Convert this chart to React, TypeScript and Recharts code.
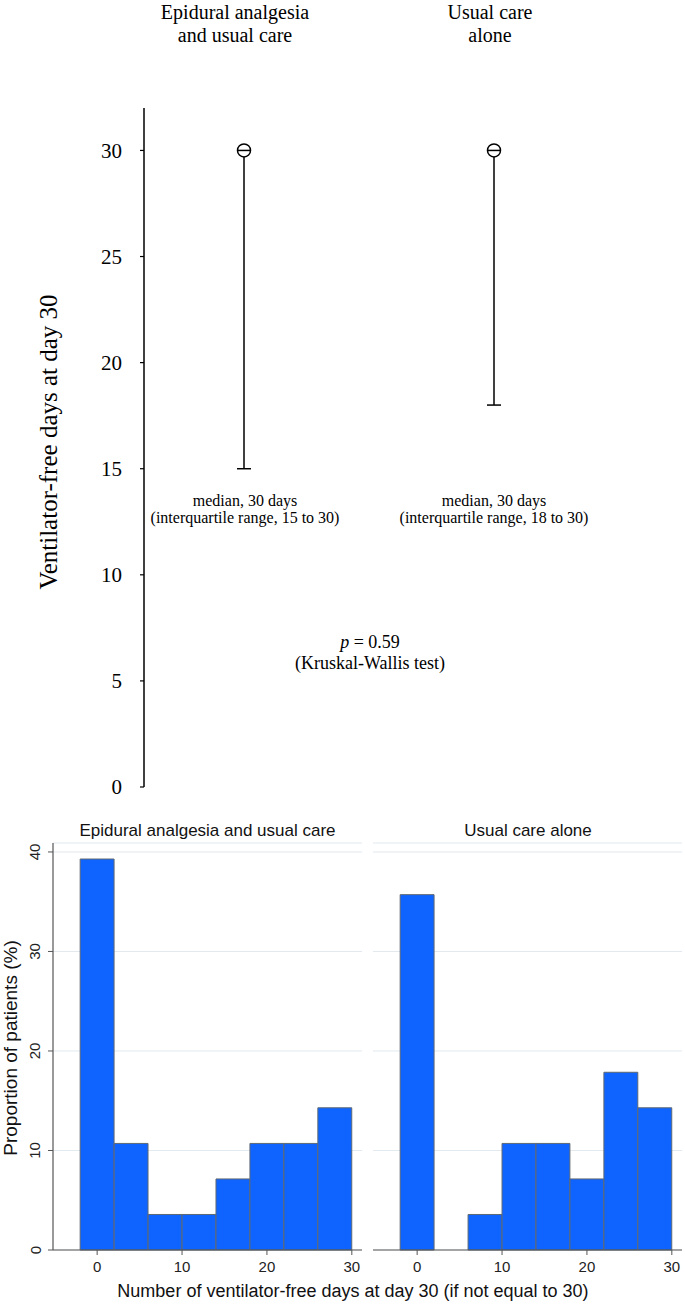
import React from 'react';
import {
  ComposedChart,
  BarChart,
  Bar,
  Line,
  Scatter,
  XAxis,
  YAxis,
  CartesianGrid
} from 'recharts';

// group summary (ventilator-free days at day 30)
const groupNames = ['Epidural analgesia and usual care', 'Usual care alone'];
const groupPos = [1, 2];
const medianDays = [30, 30];
const lowerQuartile = [15, 18];
const upperQuartile = [30, 30];
const daysTicks = [0, 5, 10, 15, 20, 25, 30];

// histogram bins (centre of each 4-day bin) and proportions in %
const binCenters = [0, 4, 8, 12, 16, 20, 24, 28];
const epiduralPct = [39.29, 10.71, 3.57, 3.57, 7.14, 10.71, 10.71, 14.29];
const usualPct = [35.71, 0, 3.57, 10.71, 10.71, 7.14, 17.86, 14.29];
const histXTicks = [0, 10, 20, 30];
const histYTicks = [0, 10, 20, 30, 40];

const SERIF = '"Liberation Serif", "Times New Roman", serif';
const SANS = '"Liberation Sans", Arial, Helvetica, sans-serif';

const HIST_DOMAIN: [number, number] = [-5.2, 31.2];
const HIST_PLOT_W = 309;
const BIN_W = 4;
const barPx = (BIN_W * HIST_PLOT_W) / (HIST_DOMAIN[1] - HIST_DOMAIN[0]) - 0.05;

const epiduralData = binCenters.map((b, i) => ({ bin: b, pct: epiduralPct[i] }));
const usualData = binCenters.map((b, i) => ({ bin: b, pct: usualPct[i] }));

const medianData = groupPos.map((p, i) => ({ pos: p, v: medianDays[i] }));
const capData = groupPos.map((p, i) => ({ pos: p, v: lowerQuartile[i] }));
const whiskerData = groupPos.map((p, i) => [
  { pos: p, v: lowerQuartile[i] },
  { pos: p, v: upperQuartile[i] }
]);

const MedianMark = (props: any) => {
  const { cx, cy } = props;
  return (
    <g>
      <circle cx={cx} cy={cy} r={6.5} fill="#fff" stroke="#000" strokeWidth={1.5} />
      <line x1={cx - 6.5} x2={cx + 6.5} y1={cy} y2={cy} stroke="#000" strokeWidth={1.5} />
    </g>
  );
};

const CapMark = (props: any) => {
  const { cx, cy } = props;
  return <line x1={cx - 7} x2={cx + 7} y1={cy} y2={cy} stroke="#000" strokeWidth={1.5} />;
};

const RotatedTick = (props: any) => {
  const { x, y, payload } = props;
  return (
    <text
      x={x}
      y={y}
      transform={`rotate(-90 ${x} ${y})`}
      textAnchor="middle"
      dominantBaseline="central"
      fontFamily={SANS}
      fontSize={15}
      fill="#222"
    >
      {payload.value}
    </text>
  );
};

const Histogram = ({ data, showY, width, marginLeft }: any) => (
  <BarChart
    width={width}
    height={505}
    data={data}
    margin={{ top: 43, right: 3, bottom: 25, left: marginLeft }}
  >
    <CartesianGrid vertical={false} stroke="#e2e9ef" strokeWidth={1} />
    <XAxis
      dataKey="bin"
      type="number"
      domain={HIST_DOMAIN}
      ticks={histXTicks}
      height={30}
      tickSize={5}
      tickMargin={6}
      axisLine={{ stroke: '#555', strokeWidth: 1.2 }}
      tickLine={{ stroke: '#555' }}
      tick={{ fontFamily: SANS, fontSize: 15, fill: '#222' }}
    />
    <YAxis
      domain={[0, 40.9]}
      ticks={histYTicks}
      hide={!showY}
      width={showY ? 53 : 0}
      tickSize={5}
      tickMargin={13}
      axisLine={{ stroke: '#555', strokeWidth: 1.2 }}
      tickLine={{ stroke: '#555' }}
      tick={<RotatedTick />}
    />
    <Bar
      dataKey="pct"
      fill="#0f64ff"
      stroke="#5d6872"
      strokeWidth={1}
      barSize={barPx}
      isAnimationActive={false}
    />
  </BarChart>
);

export default function App() {
  return (
    <div style={{ position: 'relative', width: 685, height: 1305, background: '#fff' }}>
      <style>{'body{margin:0;}'}</style>

      {/* range plot: median and interquartile range */}
      <div style={{ position: 'absolute', left: 0, top: 0 }}>
        <ComposedChart
          width={685}
          height={800}
          data={medianData}
          margin={{ top: 108, right: 20, bottom: 13, left: 0 }}
        >
          <XAxis dataKey="pos" type="number" domain={[0.6, 2.684]} hide />
          <YAxis
            domain={[0, 32]}
            ticks={daysTicks}
            width={144}
            tickSize={4}
            tickMargin={18}
            axisLine={{ stroke: '#000', strokeWidth: 1.5 }}
            tickLine={{ stroke: '#000', strokeWidth: 1.2 }}
            tick={{ fontFamily: SERIF, fontSize: 21, fill: '#000' }}
          />
          {whiskerData.map((d, i) => (
            <Line
              key={`w-${i}`}
              data={d}
              dataKey="v"
              stroke="#000"
              strokeWidth={1.5}
              dot={false}
              isAnimationActive={false}
            />
          ))}
          <Scatter data={capData} dataKey="v" shape={<CapMark />} isAnimationActive={false} />
          <Scatter data={medianData} dataKey="v" shape={<MedianMark />} isAnimationActive={false} />
        </ComposedChart>
      </div>

      {/* histograms */}
      <div style={{ position: 'absolute', left: 0, top: 800 }}>
        <Histogram data={epiduralData} showY width={365} marginLeft={0} />
      </div>
      <div style={{ position: 'absolute', left: 365, top: 800 }}>
        <Histogram data={usualData} showY={false} width={320} marginLeft={8} />
      </div>

      {/* text */}
      <svg
        width={685}
        height={1305}
        style={{ position: 'absolute', left: 0, top: 0, pointerEvents: 'none' }}
      >
        <g fontFamily={SERIF} fontSize={20} fill="#000" textAnchor="middle">
          <text x={235} y={19}>Epidural analgesia</text>
          <text x={235} y={42}>and usual care</text>
          <text x={490} y={19}>Usual care</text>
          <text x={490} y={42}>alone</text>
        </g>
        <text
          x={48}
          y={442}
          transform="rotate(-90 48 442)"
          textAnchor="middle"
          dominantBaseline="central"
          fontFamily={SERIF}
          fontSize={25}
        >
          Ventilator-free days at day 30
        </text>
        <g fontFamily={SERIF} fontSize={16} fill="#000" textAnchor="middle">
          <text x={245} y={506}>median, {medianDays[0]} days</text>
          <text x={245} y={523}>
            (interquartile range, {lowerQuartile[0]} to {upperQuartile[0]})
          </text>
          <text x={494} y={506}>median, {medianDays[1]} days</text>
          <text x={494} y={523}>
            (interquartile range, {lowerQuartile[1]} to {upperQuartile[1]})
          </text>
        </g>
        <g fontFamily={SERIF} fontSize={18} fill="#000" textAnchor="middle">
          <text x={370} y={648}>
            <tspan fontStyle="italic">p</tspan> = 0.59
          </text>
          <text x={370} y={669}>(Kruskal-Wallis test)</text>
        </g>
        <g fontFamily={SANS} fontSize={17} fill="#111" textAnchor="middle">
          <text x={207.5} y={836}>{groupNames[0]}</text>
          <text x={528} y={836}>{groupNames[1]}</text>
        </g>
        <text
          x={10}
          y={1048}
          transform="rotate(-90 10 1048)"
          textAnchor="middle"
          dominantBaseline="central"
          fontFamily={SANS}
          fontSize={19}
          fill="#111"
        >
          Proportion of patients (%)
        </text>
        <text x={353} y={1297} textAnchor="middle" fontFamily={SANS} fontSize={18} fill="#111">
          Number of ventilator-free days at day 30 (if not equal to 30)
        </text>
      </svg>
    </div>
  );
}
